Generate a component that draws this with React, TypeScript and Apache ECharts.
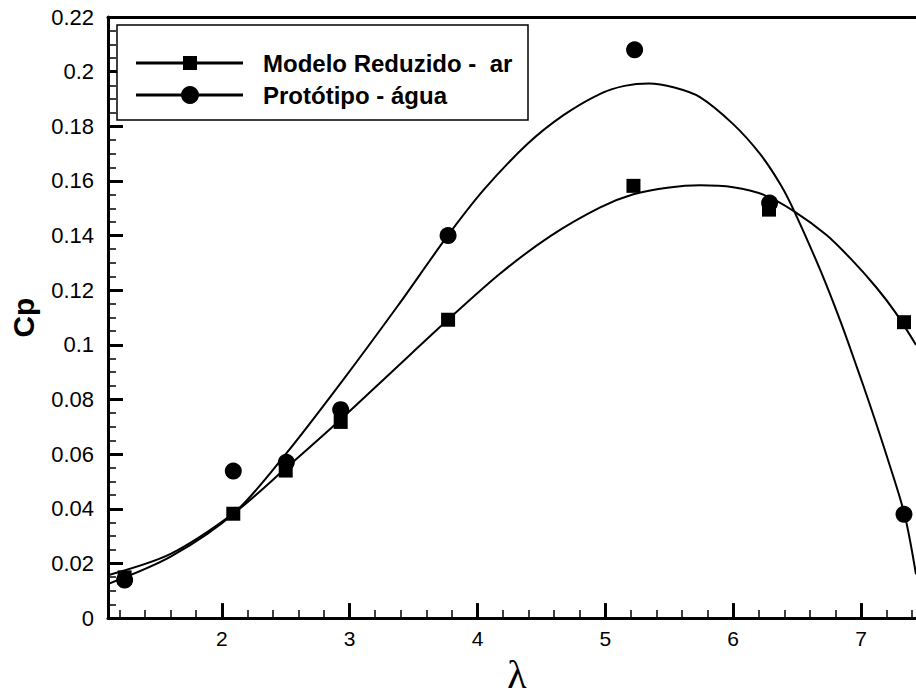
import React, { useEffect, useRef } from "react";
import * as echarts from "echarts";

// Measured points
const modeloX = [1.24, 2.09, 2.5, 2.93, 3.77, 5.22, 6.28, 7.336];
const modeloY = [0.0149, 0.0382, 0.054, 0.0718, 0.1092, 0.1582, 0.1495, 0.1083];
const protoX = [1.24, 2.09, 2.505, 2.93, 3.77, 5.229, 6.285, 7.336];
const protoY = [0.0139, 0.0538, 0.057, 0.0763, 0.14, 0.208, 0.1519, 0.038];

// Fitted curves
const modeloCurveX = [1.11, 1.6, 2.1, 2.5, 2.93, 3.35, 3.76, 4.18, 4.57, 4.96, 5.22, 5.5, 5.74, 6.0, 6.24, 6.48, 6.73, 6.93, 7.12, 7.27, 7.43];
const modeloCurveY = [0.0157, 0.0235, 0.0386, 0.0548, 0.0727, 0.091, 0.1088, 0.1262, 0.1398, 0.1503, 0.1551, 0.1576, 0.1584, 0.1577, 0.1549, 0.1488, 0.1402, 0.131, 0.121, 0.1118, 0.1];
const protoCurveX = [1.11, 1.6, 2.1, 2.5, 2.93, 3.38, 3.76, 4.05, 4.39, 4.67, 4.96, 5.15, 5.34, 5.54, 5.74, 6.0, 6.21, 6.37, 6.48, 6.68, 6.84, 6.97, 7.07, 7.2, 7.34, 7.43];
const protoCurveY = [0.0125, 0.0225, 0.0386, 0.06, 0.086, 0.1145, 0.1395, 0.1568, 0.1735, 0.184, 0.1919, 0.1948, 0.1957, 0.1942, 0.1907, 0.1808, 0.1699, 0.1587, 0.1487, 0.1275, 0.1085, 0.0915, 0.078, 0.0595, 0.038, 0.016];

const xMajorTicks = [2, 3, 4, 5, 6, 7];
const xMinorTicks = [1.2, 1.4, 1.6, 1.8, 2.2, 2.4, 2.6, 2.8, 3.2, 3.4, 3.6, 3.8, 4.2, 4.4, 4.6, 4.8, 5.2, 5.4, 5.6, 5.8, 6.2, 6.4, 6.6, 6.8, 7.2, 7.4];

const legendLabels = ["Modelo Reduzido -  ar", "Protótipo - água"];

const zip = (xs: number[], ys: number[]) => xs.map((x, i) => [x, ys[i]]);

export default function App() {
  const ref = useRef<HTMLDivElement>(null);
  useEffect(() => {
    if (!ref.current) return;
    const chart = echarts.init(ref.current, undefined, { renderer: "svg" });
    const font = "Liberation Sans, Arial, sans-serif";
    const xMin = 1.11;
    const xMax = 7.43;
    const option: any = {
      animation: false,
      backgroundColor: "#fff",
      grid: { left: 107, top: 17, right: 0, bottom: 64 },
      xAxis: [
        {
          type: "value",
          min: xMin,
          max: xMax,
          position: "bottom",
          name: "λ",
          nameLocation: "middle",
          nameGap: 50,
          nameTextStyle: {
            fontFamily: "Liberation Serif, Times New Roman, serif",
            fontSize: 40,
            color: "#000",
            align: "center",
            verticalAlign: "middle",
            padding: [0, 0, 0, 10],
          },
          axisLine: { show: true, onZero: false, lineStyle: { color: "#000", width: 3 } },
          axisTick: { show: true, inside: true, length: 15, customValues: xMajorTicks, lineStyle: { color: "#000", width: 3 } },
          axisLabel: { show: true, customValues: xMajorTicks, fontFamily: font, fontSize: 21, color: "#000", margin: 10 },
          splitLine: { show: false },
        },
        {
          type: "value",
          min: xMin,
          max: xMax,
          position: "bottom",
          axisLine: { show: false, onZero: false },
          axisTick: { show: true, inside: true, length: 8, customValues: xMinorTicks, lineStyle: { color: "#000", width: 1.5 } },
          axisLabel: { show: false },
          splitLine: { show: false },
        },
        {
          type: "value",
          min: xMin,
          max: xMax,
          position: "top",
          axisLine: { show: true, onZero: false, lineStyle: { color: "#000", width: 3 } },
          axisTick: { show: false },
          axisLabel: { show: false },
          splitLine: { show: false },
        },
      ],
      yAxis: [
        {
          type: "value",
          min: 0,
          max: 0.22,
          interval: 0.02,
          position: "left",
          name: "Cp",
          nameLocation: "middle",
          nameGap: 85,
          nameRotate: 90,
          nameTextStyle: {
            fontFamily: font,
            fontWeight: "bold",
            fontSize: 30,
            color: "#000",
            align: "center",
            verticalAlign: "middle",
          },
          axisLine: { show: true, onZero: false, lineStyle: { color: "#000", width: 3 } },
          axisTick: { show: true, inside: true, length: 15, lineStyle: { color: "#000", width: 3 } },
          minorTick: { show: true, splitNumber: 4, length: 8, lineStyle: { color: "#000", width: 1.5 } },
          axisLabel: {
            fontFamily: font,
            fontSize: 22,
            color: "#000",
            margin: 14,
            formatter: (v: number) => String(+v.toFixed(2)),
          },
          splitLine: { show: false },
          minorSplitLine: { show: false },
        },
      ],
      series: [
        {
          type: "line",
          data: zip(modeloCurveX, modeloCurveY),
          smooth: 0.3,
          symbol: "none",
          showSymbol: false,
          lineStyle: { color: "#000", width: 2 },
          z: 2,
        },
        {
          type: "line",
          data: zip(protoCurveX, protoCurveY),
          smooth: 0.3,
          symbol: "none",
          showSymbol: false,
          lineStyle: { color: "#000", width: 2 },
          z: 2,
        },
        {
          type: "scatter",
          name: legendLabels[0],
          data: zip(modeloX, modeloY),
          symbol: "rect",
          symbolSize: 14,
          itemStyle: { color: "#000", opacity: 1 },
          z: 3,
        },
        {
          type: "scatter",
          name: legendLabels[1],
          data: zip(protoX, protoY),
          symbol: "circle",
          symbolSize: 17,
          itemStyle: { color: "#000", opacity: 1 },
          z: 3,
        },
      ],
      graphic: [
        {
          type: "rect",
          shape: { x: 117, y: 25, width: 411, height: 95 },
          style: { fill: "#fff", stroke: "#000", lineWidth: 1.5 },
          z: 10,
        },
        { type: "line", shape: { x1: 136, y1: 63, x2: 243, y2: 63 }, style: { stroke: "#000", lineWidth: 3 }, z: 11 },
        { type: "rect", shape: { x: 183, y: 56, width: 14, height: 14 }, style: { fill: "#000" }, z: 12 },
        { type: "line", shape: { x1: 136, y1: 95, x2: 243, y2: 95 }, style: { stroke: "#000", lineWidth: 3 }, z: 11 },
        { type: "circle", shape: { cx: 190, cy: 95, r: 9 }, style: { fill: "#000" }, z: 12 },
        {
          type: "text",
          x: 263,
          y: 63,
          style: { text: legendLabels[0], fontFamily: font, fontWeight: "bold", fontSize: 24, fill: "#000", verticalAlign: "middle", align: "left" },
          z: 12,
        },
        {
          type: "text",
          x: 263,
          y: 95,
          style: { text: legendLabels[1], fontFamily: font, fontWeight: "bold", fontSize: 24, fill: "#000", verticalAlign: "middle", align: "left" },
          z: 12,
        },
      ],
    };
    chart.setOption(option);
    return () => chart.dispose();
  }, []);
  return (
    <div
      ref={ref}
      style={{ position: "fixed", left: 0, top: 0, width: 916, height: 699, background: "#fff" }}
    />
  );
}
